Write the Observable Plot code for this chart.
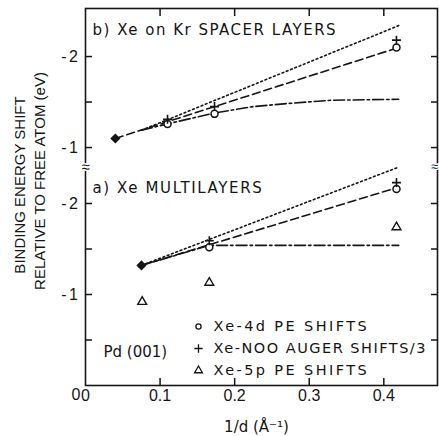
<!DOCTYPE html>
<html><head><meta charset="utf-8">
<script src="https://cdn.jsdelivr.net/npm/d3@7"></script>
<script src="https://cdn.jsdelivr.net/npm/@observablehq/plot@0.6"></script>
<style>
html,body{margin:0;padding:0;background:#fff;}
</style></head><body><div id="chart"></div>
<script>
// ---- Panel b) Xe on Kr spacer layers (values in eV) ----
const b_diamondX = [0.040], b_diamondY = [-1.10];
const b_4dX = [0.110, 0.173, 0.417], b_4dY = [-1.26, -1.37, -2.10];
const b_augerX = [0.110, 0.173, 0.417], b_augerY = [-1.31, -1.45, -2.18];
const b_dashX = [0.040, 0.420], b_dashY = [-1.10, -2.10];
const b_dotX = [0.075, 0.420], b_dotY = [-1.19, -2.34];
const b_dashdotX = [0.075, 0.110, 0.173, 0.225, 0.280, 0.330, 0.420];
const b_dashdotY = [-1.19, -1.26, -1.38, -1.45, -1.49, -1.52, -1.53];
// ---- Panel a) Xe multilayers ----
const a_diamondX = [0.075], a_diamondY = [-1.32];
const a_4dX = [0.166, 0.417], a_4dY = [-1.52, -2.16];
const a_augerX = [0.166, 0.417], a_augerY = [-1.59, -2.23];
const a_5pX = [0.076, 0.166, 0.417], a_5pY = [-0.92, -1.13, -1.74];
const a_dashX = [0.075, 0.420], a_dashY = [-1.32, -2.18];
const a_dotX = [0.075, 0.420], a_dotY = [-1.32, -2.40];
const a_dashdotX = [0.075, 0.166, 0.420], a_dashdotY = [-1.32, -1.54, -1.54];
// ---- ticks / texts ----
const xTicks = [0, 0.1, 0.2, 0.3, 0.4];
const yTicksA = [0, -0.5, -1, -1.5, -2];
const yTicksB = [-1, -1.5, -2];
const titleB = "b) Xe on Kr SPACER LAYERS";
const titleA = "a) Xe MULTILAYERS";
const legendLabels = ["Xe-4d PE SHIFTS", "Xe-NOO AUGER SHIFTS/3", "Xe-5p PE SHIFTS"];
const legendSymbols = ["circle", "plus", "triangle"];
const substrate = "Pd (001)";
const yTitle1 = "BINDING ENERGY SHIFT";
const yTitle2 = "RELATIVE TO FREE ATOM (eV)";
const xTitle = "1/d (Å⁻¹)";

// broken axis: two panels share one vertical scale
const uA = v => -v;            // panel a: 0 .. -2.4
const uB = v => -v + 1.615;    // panel b: -0.8 .. -2.5
const yBreak = 2.4;
const series = (xs, ys, f) => xs.map((x, i) => ({x, u: f(ys[i])}));
const labelOf = v => (Number.isInteger(v) && v !== 0) ? "-" + Math.abs(v) : "";
const yTickVals = [...yTicksA.filter(v => v !== 0).map(uA), ...yTicksB.map(uB)];
const yTickText = new Map([...yTicksA.map(v => [uA(v), labelOf(v)]), ...yTicksB.map(v => [uB(v), labelOf(v)])]);

const ink = "#151515";
const lw = 1.6;
const DASH = "8,4", DOT = "1.8,2.8", DASHDOT = "11,3,2.5,3";

const lineMarks = [
  [b_dashX, b_dashY, uB, DASH], [b_dotX, b_dotY, uB, DOT], [b_dashdotX, b_dashdotY, uB, DASHDOT],
  [a_dashX, a_dashY, uA, DASH], [a_dotX, a_dotY, uA, DOT], [a_dashdotX, a_dashdotY, uA, DASHDOT]
].map(([xs, ys, f, d]) => Plot.line(series(xs, ys, f), {x: "x", y: "u", stroke: ink, strokeWidth: lw, strokeDasharray: d}));

const circleOpt = {x: "x", y: "u", symbol: "circle", r: 3.5, stroke: ink, strokeWidth: 1.5, fill: "white"};
const plusOpt = {x: "x", y: "u", symbol: "plus", r: 3, stroke: ink, strokeWidth: 1.6};
const triOpt = {x: "x", y: "u", symbol: "triangle", r: 3.3, stroke: ink, strokeWidth: 1.4, fill: "none"};
const diaOpt = {x: "x", y: "u", symbol: "diamond2", r: 3.6, fill: ink, stroke: ink};

// legend rows (pixel offsets from the bottom of the frame)
const legendRowDy = [-59, -37, -15];
const legendMarks = legendLabels.flatMap((lab, i) => [
  Plot.dot([lab], {frameAnchor: "bottom-left", dx: 113, dy: legendRowDy[i], symbol: legendSymbols[i],
    r: [2.6, 2.8, 2.9][i], stroke: ink, strokeWidth: 1.3, fill: legendSymbols[i] === "triangle" ? "none" : undefined}),
  Plot.text([lab], {frameAnchor: "bottom-left", lineAnchor: "middle", dx: 128, dy: legendRowDy[i], textAnchor: "start",
    fontFamily: "'DejaVu Sans'", fontSize: 14.5, fill: ink})
]);

const chart = Plot.plot({
  width: 439, height: 436,
  marginLeft: 85, marginRight: 2, marginTop: 8, marginBottom: 51,
  x: {domain: [0, 0.472]},
  y: {domain: [0, 4.143]},
  style: {fontFamily: "'Liberation Sans', sans-serif", fontSize: "16px", color: ink, background: "white", overflow: "visible"},
  marks: [
    // axes: labels
    Plot.axisX({ticks: xTicks, anchor: "bottom", tickSize: 0, tickPadding: 4, tickFormat: d => d === 0 ? "0" : d.toFixed(1), label: null, fontSize: 16}),
    Plot.axisY(yTickVals, {anchor: "left", tickSize: 0, tickPadding: 5, tickFormat: u => yTickText.get(u) ?? "", label: null, fontSize: 16}),
    // inward ticks on all four sides
    Plot.axisX({ticks: xTicks.filter(d => d > 0), anchor: "bottom", tickSize: -7, tickFormat: () => "", label: null, strokeWidth: 1.5}),
    Plot.axisX({ticks: xTicks.filter(d => d > 0), anchor: "top", tickSize: -7, tickFormat: () => "", label: null, strokeWidth: 1.5}),
    Plot.axisY(yTickVals, {anchor: "left", tickSize: -7, tickFormat: () => "", label: null, strokeWidth: 1.5}),
    Plot.axisY(yTickVals, {anchor: "right", tickSize: -7, tickFormat: () => "", label: null, strokeWidth: 1.5}),
    Plot.frame({stroke: ink, strokeWidth: 1.6}),
    Plot.text([0], {y: d => d, frameAnchor: "left", text: () => "0", textAnchor: "end", dx: -5, dy: 9, fontSize: 16}),
    // axis breaks
    Plot.text([yBreak], {y: d => d, frameAnchor: "left", text: () => "≈", textAnchor: "middle", fontSize: 15, stroke: "white", strokeWidth: 3, fill: ink}),
    Plot.text([yBreak], {y: d => d, frameAnchor: "right", text: () => "≈", textAnchor: "middle", dx: -3, fontSize: 13, stroke: "white", strokeWidth: 2.5, fill: ink}),
    // curves
    ...lineMarks,
    // points
    Plot.dot(series(b_diamondX, b_diamondY, uB), diaOpt),
    Plot.dot(series(a_diamondX, a_diamondY, uA), diaOpt),
    Plot.dot(series(b_4dX, b_4dY, uB), circleOpt),
    Plot.dot(series(a_4dX, a_4dY, uA), circleOpt),
    Plot.dot(series(b_augerX, b_augerY, uB), plusOpt),
    Plot.dot(series(a_augerX, a_augerY, uA), plusOpt),
    Plot.dot(series(a_5pX, a_5pY, uA), triOpt),
    // panel titles
    Plot.text([titleB], {frameAnchor: "top-left", lineAnchor: "middle", dx: 7, dy: 22, textAnchor: "start", fontFamily: "'DejaVu Sans'", fontSize: 15, fill: ink}),
    Plot.text([titleA], {frameAnchor: "top-left", lineAnchor: "middle", dx: 7, dy: 180, textAnchor: "start", fontFamily: "'DejaVu Sans'", fontSize: 15, fill: ink}),
    // legend
    ...legendMarks,
    Plot.text([substrate], {frameAnchor: "bottom-left", lineAnchor: "middle", dx: 18, dy: -33, textAnchor: "start", fontFamily: "'DejaVu Sans'", fontSize: 15, fill: ink}),
    // axis titles
    Plot.text([yTitle1], {frameAnchor: "left", dx: -65, dy: -12, rotate: -90, textAnchor: "middle", fontSize: 15, fill: ink}),
    Plot.text([yTitle2], {frameAnchor: "left", dx: -45, dy: -16, rotate: -90, textAnchor: "middle", fontSize: 15, fill: ink}),
    Plot.text([xTitle], {frameAnchor: "bottom", lineAnchor: "middle", dx: -5, dy: 42, textAnchor: "middle", fontFamily: "'DejaVu Sans'", fontSize: 15, fill: ink})
  ]
});
document.getElementById("chart").appendChild(chart);
// letter spacing for the typewritten-looking annotations
const svg = d3.select(chart);
const spacing = new Map([[titleA, "1.6px"], [titleB, "1.5px"],
  [legendLabels[0], "2.4px"], [legendLabels[1], "1.5px"], [legendLabels[2], "2.4px"]]);
svg.selectAll("text").filter(function() { return spacing.has(this.textContent); })
  .style("letter-spacing", function() { return spacing.get(this.textContent); });
svg.selectAll("text").filter(function() { return /^-\d$/.test(this.textContent); }).style("letter-spacing", "2.5px");
</script></body></html>
